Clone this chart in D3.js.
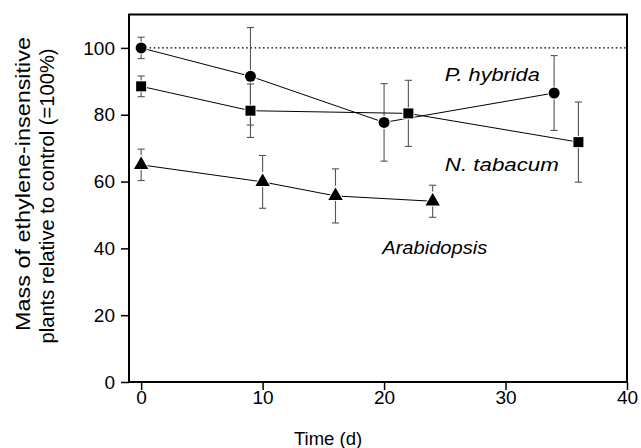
<!DOCTYPE html>
<html>
<head>
<meta charset="utf-8">
<script src="https://cdn.jsdelivr.net/npm/d3@7"></script>
<style>
  html, body { margin: 0; padding: 0; background: #fff; }
  svg { display: block; font-family: "Liberation Sans", Arial, Helvetica, sans-serif; }
</style>
</head>
<body>
<svg id="chart" width="641" height="448"></svg>
<script>
// ---- data ----
const xTicks = [0, 10, 20, 30, 40];
const yTicks = [0, 20, 40, 60, 80, 100];

const petuniaDays = [0, 9, 20, 34];
const petuniaMass = [100, 91.5, 77.7, 86.5];
const petuniaErr  = [3.2, 14.6, 11.6, 11.2];

const tobaccoDays = [0, 9, 22, 36];
const tobaccoMass = [88.5, 81.2, 80.4, 71.8];
const tobaccoErr  = [3.1, 8.0, 9.9, 12.0];

const arabDays = [0, 10, 16, 24];
const arabMass = [65.0, 59.9, 55.7, 54.1];
const arabErr  = [4.7, 7.9, 8.1, 4.8];

const controlLevel = 100;

const seriesLabels = ["P. hybrida", "N. tabacum", "Arabidopsis"];
const labelDays = [25.0, 25.0, 19.85];
const labelMass = [90.1, 63.2, 38.3];

// ---- layout ----
const svg = d3.select("#chart");
const mLeft = 129, mRight = 627, mTop = 14.5, mBottom = 382;
const labelWidths = [95, 114, 105];

const x = d3.scaleLinear().domain([-1, 40]).range([mLeft, mRight]);
const y = d3.scaleLinear().domain([0, 110]).range([mBottom, mTop]);

const series = [
  { days: petuniaDays, mass: petuniaMass, err: petuniaErr, symbol: d3.symbolCircle, size: 95 },
  { days: tobaccoDays, mass: tobaccoMass, err: tobaccoErr, symbol: d3.symbolSquare, size: 100 },
  { days: arabDays,    mass: arabMass,    err: arabErr,    symbol: d3.symbolTriangle, size: 90 }
];

// control dotted line
svg.append("line")
  .attr("x1", x(0)).attr("x2", x(40))
  .attr("y1", y(controlLevel)).attr("y2", y(controlLevel))
  .attr("stroke", "#000").attr("stroke-width", 1.2)
  .attr("stroke-dasharray", "1.6,2.6");

// error bars
const capW = 3.6;
series.forEach(s => {
  const g = svg.append("g").attr("stroke", "#555").attr("stroke-width", 1.1).attr("fill", "none");
  s.days.forEach((d, i) => {
    const cx = x(d), y1 = y(s.mass[i] + s.err[i]), y2 = y(s.mass[i] - s.err[i]);
    g.append("line").attr("x1", cx).attr("x2", cx).attr("y1", y1).attr("y2", y2);
    g.append("line").attr("x1", cx - capW).attr("x2", cx + capW).attr("y1", y1).attr("y2", y1);
    g.append("line").attr("x1", cx - capW).attr("x2", cx + capW).attr("y1", y2).attr("y2", y2);
  });
});

// connecting lines
const line = d3.line().x(d => x(d[0])).y(d => y(d[1]));
series.forEach(s => {
  svg.append("path")
    .attr("d", line(s.days.map((d, i) => [d, s.mass[i]])))
    .attr("fill", "none").attr("stroke", "#000").attr("stroke-width", 1);
});

// markers
series.forEach(s => {
  const sym = d3.symbol().type(s.symbol).size(s.size);
  svg.append("g").selectAll("path")
    .data(s.days.map((d, i) => [d, s.mass[i]]))
    .join("path")
    .attr("d", sym)
    .attr("transform", d => `translate(${x(d[0])},${y(d[1])})`)
    .attr("fill", "#000")
    .attr("stroke", "#fff").attr("stroke-width", 2)
    .attr("paint-order", "stroke");
});

// frame
svg.append("rect")
  .attr("x", mLeft).attr("y", mTop)
  .attr("width", mRight - mLeft).attr("height", mBottom - mTop)
  .attr("fill", "none").attr("stroke", "#000").attr("stroke-width", 2);

// axes
const xAxis = d3.axisBottom(x).tickValues(xTicks).tickSize(8).tickPadding(1);
const gx = svg.append("g").attr("transform", `translate(0,${mBottom})`).call(xAxis);
gx.select(".domain").remove();
gx.selectAll(".tick line").attr("stroke", "#000").attr("stroke-width", 1.5);
gx.selectAll("text").attr("font-size", 19).attr("fill", "#000")
  .attr("font-family", "Liberation Sans, Arial, sans-serif");

const yAxis = d3.axisLeft(y).tickValues(yTicks).tickSize(8).tickPadding(6);
const gy = svg.append("g").attr("transform", `translate(${mLeft},0)`).call(yAxis);
gy.select(".domain").remove();
gy.selectAll(".tick line").attr("stroke", "#000").attr("stroke-width", 1.5);
gy.selectAll("text").attr("font-size", 19).attr("fill", "#000")
  .attr("font-family", "Liberation Sans, Arial, sans-serif");

// axis titles
svg.append("text")
  .attr("x", 328).attr("y", 445)
  .attr("text-anchor", "middle").attr("font-size", 18.5)
  .text("Time (d)");

svg.append("text")
  .attr("transform", "translate(30,184) rotate(-90)")
  .attr("text-anchor", "middle").attr("font-size", 20)
  .attr("textLength", 294).attr("lengthAdjust", "spacingAndGlyphs")
  .text("Mass of ethylene-insensitive");
svg.append("text")
  .attr("transform", "translate(54,196) rotate(-90)")
  .attr("text-anchor", "middle").attr("font-size", 20)
  .attr("textLength", 295).attr("lengthAdjust", "spacingAndGlyphs")
  .text("plants relative to control (=100%)");

// series labels
seriesLabels.forEach((t, i) => {
  svg.append("text")
    .attr("x", x(labelDays[i])).attr("y", y(labelMass[i]))
    .attr("font-size", 19).attr("font-style", "italic")
    .attr("textLength", labelWidths[i]).attr("lengthAdjust", "spacingAndGlyphs")
    .text(t);
});
</script>
</body>
</html>
